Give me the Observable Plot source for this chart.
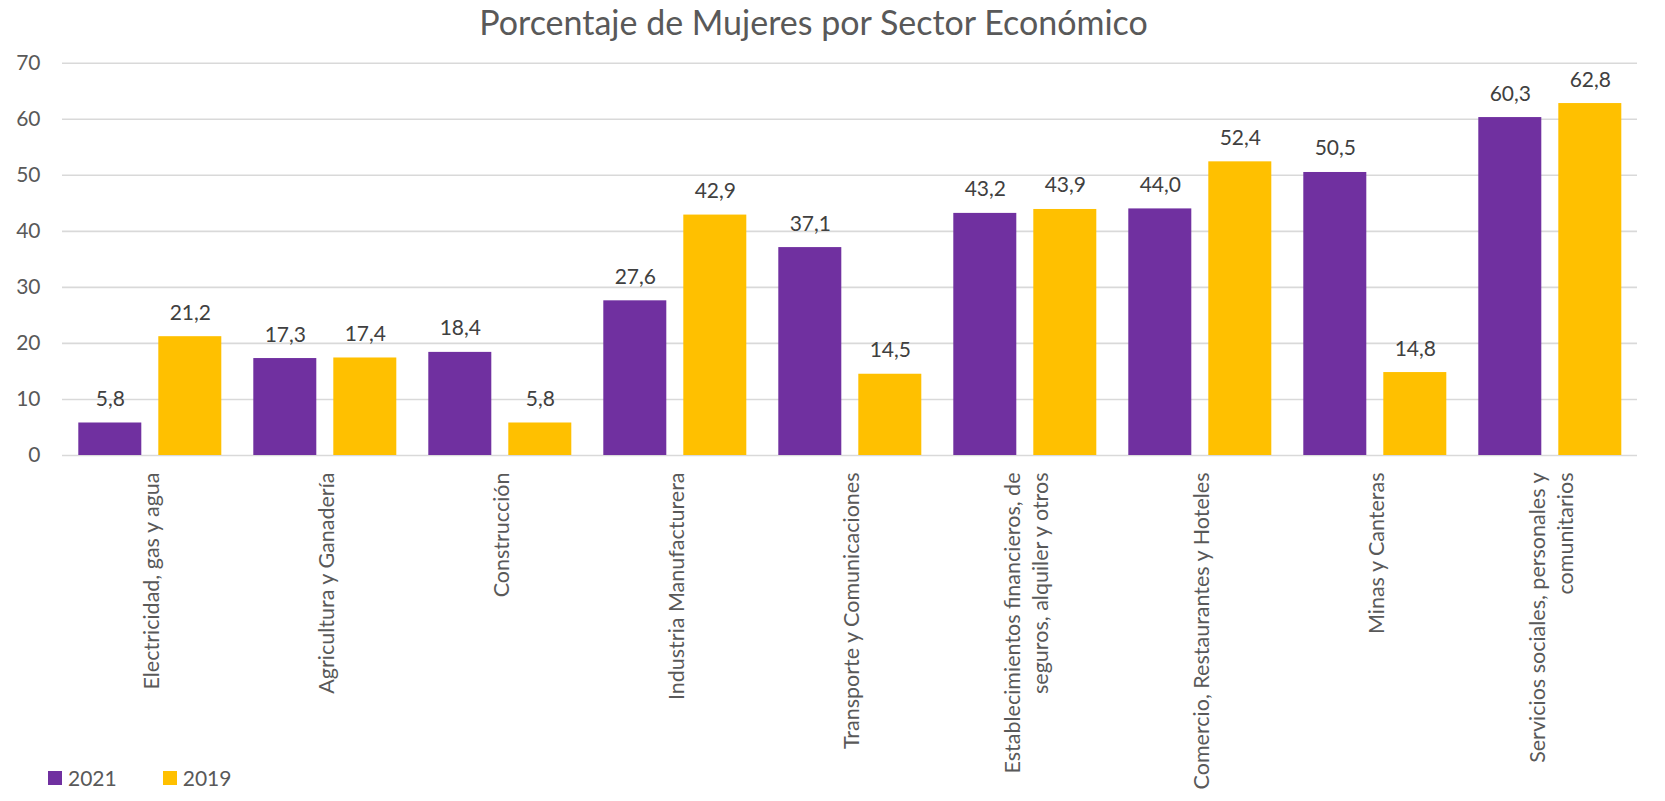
<!DOCTYPE html>
<html>
<head>
<meta charset="utf-8">
<script src="https://cdn.jsdelivr.net/npm/d3@7"></script>
<script src="https://cdn.jsdelivr.net/npm/@observablehq/plot@0.6"></script>
<style>
  html, body { margin: 0; padding: 0; background: #fff; }
  #wrap { position: relative; width: 1665px; height: 801px; overflow: hidden; font-family: Lato, "Open Sans", sans-serif; }
  #title { height: 50px; width: 1665px; box-sizing: border-box; padding-right: 38px; text-align: center; font-size: 34px; color: #595959; line-height: 44px; }
  #legend { position: absolute; left: 48px; top: 761px; }
  .leg-swatches { font-family: Lato, sans-serif !important; font-size: 21px !important; color: #595959 !important; }
  .leg-swatch { margin-right: 46px !important; }
  .leg-swatch > svg { margin-right: 6px !important; }
</style>
</head>
<body>
<div id="wrap">
  <div id="title">Porcentaje de Mujeres por Sector Económico</div>
  <div id="chart"></div>
  <div id="legend"></div>
</div>
<script>
const sectors = [
  "Electricidad, gas y agua",
  "Agricultura y Ganadería",
  "Construcción",
  "Industria Manufacturera",
  "Transporte y Comunicaciones",
  "Establecimientos financieros, de seguros, alquiler y otros",
  "Comercio, Restaurantes y Hoteles",
  "Minas y Canteras",
  "Servicios sociales, personales y comunitarios"
];
const sectorTickLabels = [
  "Electricidad, gas y agua",
  "Agricultura y Ganadería",
  "Construcción",
  "Industria Manufacturera",
  "Transporte y Comunicaciones",
  "Establecimientos financieros, de\nseguros, alquiler y otros",
  "Comercio, Restaurantes y Hoteles",
  "Minas y Canteras",
  "Servicios sociales, personales y\ncomunitarios"
];
const years = ["2021", "2019"];
const values2021 = [5.8, 17.3, 18.4, 27.6, 37.1, 43.2, 44.0, 50.5, 60.3];
const values2019 = [21.2, 17.4, 5.8, 42.9, 14.5, 43.9, 52.4, 14.8, 62.8];
const yTicks = [0, 10, 20, 30, 40, 50, 60, 70];
const colors = ["#7030A0", "#FFC000"];

const data = [];
sectors.forEach((s, i) => {
  data.push({sector: s, year: years[0], value: values2021[i]});
  data.push({sector: s, year: years[1], value: values2019[i]});
});
const tickLabel = new Map(sectors.map((s, i) => [s, sectorTickLabels[i]]));
const fmt = v => v.toFixed(1).replace(".", ",");

const chart = Plot.plot({
  width: 1665,
  height: 751,
  marginTop: 12.7,
  marginBottom: 346,
  marginLeft: 61.7,
  marginRight: 28.3,
  style: {fontFamily: "Lato, 'Open Sans', sans-serif", background: "#fff"},
  fx: {domain: sectors, padding: 0, label: null},
  x: {domain: years, paddingInner: 0.2125, paddingOuter: 0.2, axis: null},
  y: {domain: [0, 70], label: null},
  color: {domain: years, range: colors},
  marks: [
    Plot.gridY(yTicks, {stroke: "#d9d9d9", strokeOpacity: 1, strokeWidth: 1.6}),
    Plot.axisY(yTicks, {tickSize: 0, tickPadding: 22, fontSize: 21, fill: "#595959", label: null}),
    Plot.axisFx({
      anchor: "bottom", tickSize: 0, tickPadding: 17, tickRotate: -90,
      tickFormat: d => tickLabel.get(d), fontSize: 21.5, fill: "#595959",
      lineHeight: 1.3, label: null
    }),
    Plot.barY(data, {fx: "sector", x: "year", y: "value", fill: "year"}),
    Plot.text(data, {
      fx: "sector", x: "year", y: "value", text: d => fmt(d.value),
      dy: -17, lineAnchor: "bottom", fontSize: 21, fill: "#404040"
    })
  ]
});
document.getElementById("chart").appendChild(chart);

const leg = Plot.legend({
  color: {domain: years, range: colors},
  swatchSize: 14,
  className: "leg"
});
document.getElementById("legend").appendChild(leg);
</script>
</body>
</html>
